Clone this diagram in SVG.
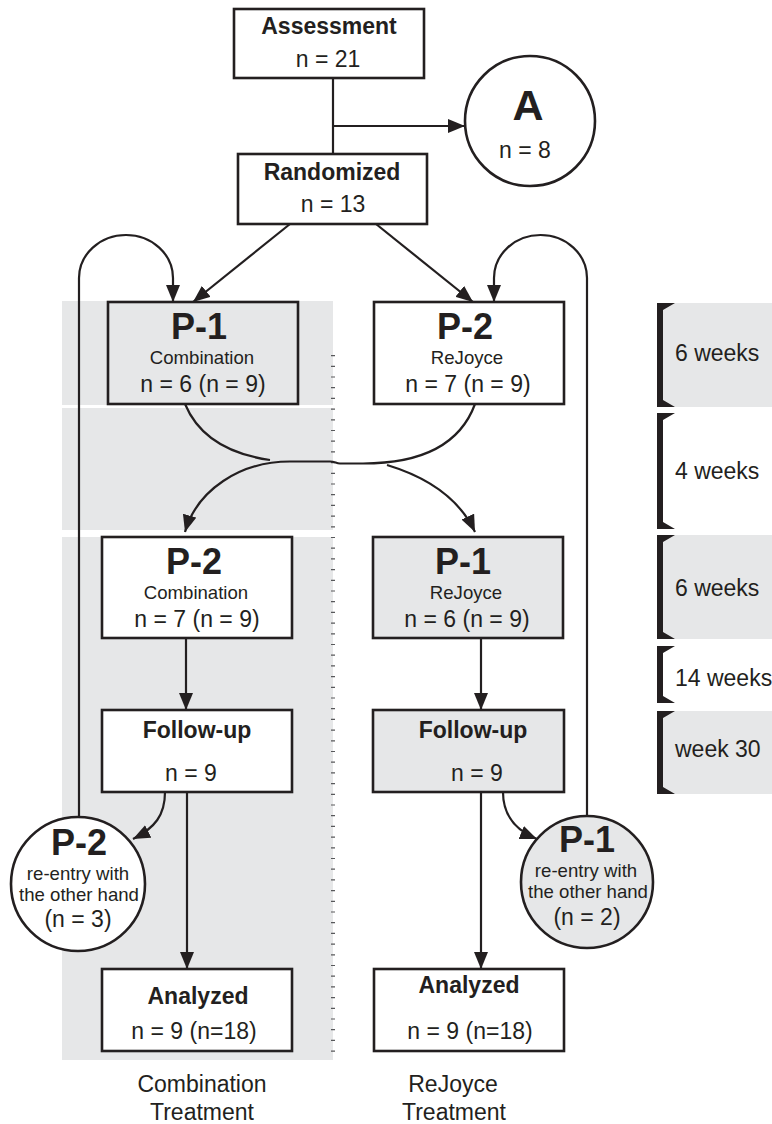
<svg xmlns="http://www.w3.org/2000/svg" width="772" height="1124" viewBox="0 0 772 1124">
<style>
.bg{fill:#e6e7e8}
.box{fill:#ffffff;stroke:#231f20;stroke-width:2.6}
.gbox{fill:#e6e7e8;stroke:#231f20;stroke-width:2.6}
.ln{fill:none;stroke:#231f20;stroke-width:2.2}
text{font-family:"Liberation Sans",Arial,sans-serif;fill:#231f20;text-anchor:middle}
.b{font-weight:bold;font-size:23px}
.r{font-size:23px}
.big{font-weight:bold;font-size:36px}
.s{font-size:18.6px}
.wk{font-size:23px;text-anchor:start}
.br{fill:#231f20}
</style>
<defs>
<marker id="ah" viewBox="0 0 17 14" refX="17" refY="7" markerWidth="17" markerHeight="14" markerUnits="userSpaceOnUse" orient="auto">
<path d="M0,0 L17,7 L0,14 z" fill="#231f20"/>
</marker>
</defs>

<g id="bands">
<rect class="bg" x="62" y="301" width="271" height="104"/>
<rect class="bg" x="62" y="408" width="271" height="122"/>
<rect class="bg" x="62" y="537" width="271" height="523"/>
<line x1="333" y1="355" x2="333" y2="1060" stroke="#58595b" stroke-width="4" stroke-dasharray="1.2 9.5"/>
</g>

<g id="timeline">
<rect class="bg" x="663" y="303" width="109" height="104"/>
<rect class="bg" x="663" y="535" width="109" height="104"/>
<rect class="bg" x="663" y="711" width="109" height="83"/>
<path class="br" d="M657,303 L675,303 L663,310 L663,400 L675,407 L657,407 Z"/>
<path class="br" d="M657,413 L675,413 L663,420 L663,522 L675,529 L657,529 Z"/>
<path class="br" d="M657,535 L675,535 L663,542 L663,632 L675,639 L657,639 Z"/>
<path class="br" d="M657,646 L675,646 L663,653 L663,696 L675,703 L657,703 Z"/>
<path class="br" d="M657,711 L675,711 L663,718 L663,787 L675,794 L657,794 Z"/>
<text class="wk" x="675" y="361">6 weeks</text>
<text class="wk" x="675" y="479">4 weeks</text>
<text class="wk" x="675" y="596">6 weeks</text>
<text class="wk" x="675" y="686">14 weeks</text>
<text class="wk" x="675" y="757">week 30</text>
</g>

<g id="connectors">
<line class="ln" x1="333" y1="78" x2="333" y2="154"/>
<line class="ln" x1="333" y1="126" x2="465" y2="126" marker-end="url(#ah)"/>
<line class="ln" x1="290" y1="224" x2="193" y2="302" marker-end="url(#ah)"/>
<line class="ln" x1="376" y1="224" x2="473" y2="302" marker-end="url(#ah)"/>
<path class="ln" d="M79,817 V278 A47,43 0 0 1 173,278 V302" marker-end="url(#ah)"/>
<path class="ln" d="M587,815 V278 A46.5,43 0 0 0 494,278 V302" marker-end="url(#ah)"/>
<path class="ln" d="M185,404 C200,440 235,455 270,460"/>
<path class="ln" d="M387,465 C430,478 460,500 475,532" marker-end="url(#ah)"/>
<path class="ln" d="M475,404 C460,445 420,463.5 363,463.5 L340,463.5 C336,463.5 335,461.5 330,461.5 L290,461.5 C240,461.5 197,490 185,532" marker-end="url(#ah)"/>
<line class="ln" x1="186" y1="638" x2="186" y2="710" marker-end="url(#ah)"/>
<line class="ln" x1="481" y1="638" x2="481" y2="710" marker-end="url(#ah)"/>
<line class="ln" x1="187" y1="792" x2="187" y2="969" marker-end="url(#ah)"/>
<line class="ln" x1="481" y1="792" x2="481" y2="969" marker-end="url(#ah)"/>
<path class="ln" d="M165,792 C165,815 155,828 133,839" marker-end="url(#ah)"/>
<path class="ln" d="M503,792 C503,815 515,830 537,839" marker-end="url(#ah)"/>
</g>

<g id="assessment">
<rect class="box" x="234" y="9" width="190" height="69"/>
<text class="b" x="329" y="34">Assessment</text>
<text class="r" x="328" y="67">n = 21</text>
</g>

<g id="excluded-a">
<circle class="box" cx="530" cy="121" r="65"/>
<text x="528" y="120" style="font-weight:bold;font-size:43px">A</text>
<text class="r" x="525" y="158">n = 8</text>
</g>

<g id="randomized">
<rect class="box" x="238" y="154" width="189" height="70"/>
<text class="b" x="332" y="180">Randomized</text>
<text class="r" x="333" y="212">n = 13</text>
</g>

<g id="p1-combination">
<rect class="gbox" x="108" y="302" width="190" height="102"/>
<text class="big" x="199" y="339">P-1</text>
<text class="s" x="202" y="364">Combination</text>
<text class="r" x="203" y="392">n = 6 (n = 9)</text>
</g>

<g id="p2-rejoyce">
<rect class="box" x="374" y="302" width="190" height="102"/>
<text class="big" x="465" y="339">P-2</text>
<text class="s" x="467" y="364">ReJoyce</text>
<text class="r" x="468" y="392">n = 7 (n = 9)</text>
</g>

<g id="p2-combination">
<rect class="box" x="102" y="537" width="190" height="101"/>
<text class="big" x="194" y="574">P-2</text>
<text class="s" x="196" y="599">Combination</text>
<text class="r" x="197" y="627">n = 7 (n = 9)</text>
</g>

<g id="p1-rejoyce">
<rect class="gbox" x="373" y="537" width="190" height="101"/>
<text class="big" x="463" y="574">P-1</text>
<text class="s" x="466" y="599">ReJoyce</text>
<text class="r" x="467" y="627">n = 6 (n = 9)</text>
</g>

<g id="followup-combination">
<rect class="box" x="102" y="710" width="190" height="82"/>
<text class="b" x="197" y="738">Follow-up</text>
<text class="r" x="191" y="781">n = 9</text>
</g>

<g id="followup-rejoyce">
<rect class="gbox" x="373" y="710" width="191" height="82"/>
<text class="b" x="473" y="738">Follow-up</text>
<text class="r" x="477" y="781">n = 9</text>
</g>

<g id="reentry-p2">
<circle class="box" cx="78" cy="884" r="67"/>
<text class="big" x="79" y="855">P-2</text>
<text class="s" x="78" y="880">re-entry with</text>
<text class="s" x="79" y="901">the other hand</text>
<text class="r" x="78" y="927">(n = 3)</text>
</g>

<g id="reentry-p1">
<circle class="gbox" cx="587" cy="882" r="66"/>
<text class="big" x="587" y="852">P-1</text>
<text class="s" x="586" y="877">re-entry with</text>
<text class="s" x="588" y="898">the other hand</text>
<text class="r" x="587" y="925">(n = 2)</text>
</g>

<g id="analyzed-combination">
<rect class="box" x="102" y="969" width="190" height="82"/>
<text class="b" x="198" y="1004">Analyzed</text>
<text class="r" x="194" y="1039">n = 9 (n=18)</text>
</g>

<g id="analyzed-rejoyce">
<rect class="box" x="374" y="969" width="190" height="82"/>
<text class="b" x="469" y="993">Analyzed</text>
<text class="r" x="470" y="1039">n = 9 (n=18)</text>
</g>

<g id="labels">
<text class="r" x="202" y="1092">Combination</text>
<text class="r" x="202" y="1120">Treatment</text>
<text class="r" x="453" y="1092">ReJoyce</text>
<text class="r" x="454" y="1120">Treatment</text>
</g>
</svg>
